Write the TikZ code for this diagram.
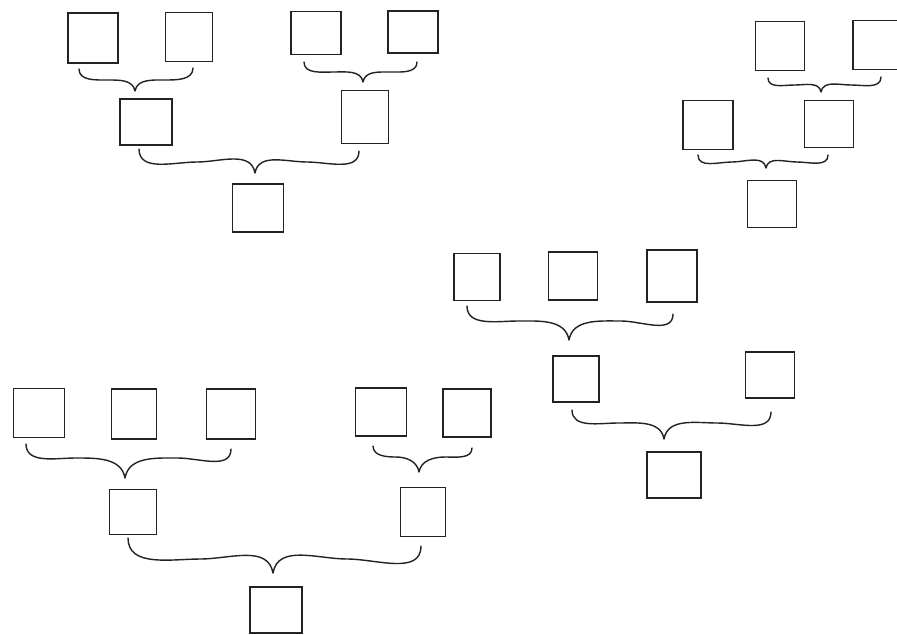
\documentclass[tikz,border=0pt]{standalone}
\usetikzlibrary{calc}
\definecolor{ink}{RGB}{35,35,35}
\tikzset{
  sq/.style 2 args={draw=ink, line width=1.2pt, rectangle, inner sep=0pt, outer sep=0pt,
    minimum width=#1*0.03cm, minimum height=#2*0.03cm},
  bracepath/.style={draw=ink, line width=1.2pt, line cap=round, line join=round}
}
% #1 name, #2 Lx, #3 Ly, #4 Tx, #5 Ty, #6 Rx, #7 Ry, #8 level of the flat part
\newcommand\treebrace[8]{%
  \coordinate (#1L) at (#2,#3);
  \coordinate (#1a) at ({(#2+#4)/2},#8);
  \coordinate (#1T) at (#4,#5);
  \coordinate (#1b) at ({(#4+#6)/2},#8);
  \coordinate (#1R) at (#6,#7);
  \draw[bracepath] (#1L) to[out=-90,in=180] (#1a) to[out=0,in=100] (#1T)
    to[out=80,in=180] (#1b) to[out=0,in=-90] (#1R);
}
\begin{document}
\begin{tikzpicture}[x=0.03cm,y=-0.03cm]
\clip (0,0) rectangle (897,634);
\fill[white] (0,0) rectangle (897,634);
% top-left tree
\node[sq={50}{50}] (A) at (93,38) {};
\node[sq={47}{49}] (B) at (189,37) {};
\node[sq={50}{43}] (C) at (316,33) {};
\node[sq={50}{42}] (D) at (413,32) {};
\node[sq={52}{46}] (E) at (146,122) {};
\node[sq={47}{53}] (F) at (365,117) {};
\node[sq={51}{48}] (G) at (258,208) {};
\treebrace{b1}{79}{69}{135}{91}{193}{68}{80}
\treebrace{b2}{304}{62}{363}{82}{417}{62}{72}
\treebrace{b3}{139}{149}{255}{173}{359}{151}{162}
% top-right tree
\node[sq={49}{49}] (H) at (780,46) {};
\node[sq={48}{49}] (I) at (877,45) {};
\node[sq={50}{49}] (J) at (708,125) {};
\node[sq={49}{47}] (K) at (829,124) {};
\node[sq={49}{47}] (L) at (772,204) {};
\treebrace{b4}{768}{78}{821}{92}{881}{77}{85}
\treebrace{b5}{698}{155}{766}{168}{828}{155}{162}
% middle tree
\node[sq={46}{47}] (M) at (477,277) {};
\node[sq={49}{48}] (N) at (573,276) {};
\node[sq={50}{52}] (O) at (672,276) {};
\node[sq={46}{46}] (P) at (576,379) {};
\node[sq={49}{46}] (Q) at (770,375) {};
\node[sq={54}{46}] (R) at (674,475) {};
\treebrace{b6}{467}{306}{569}{340}{673}{314}{321}
\treebrace{b7}{572}{410}{664}{439}{771}{412}{423}
% bottom-left tree
\node[sq={51}{49}] (S) at (39,413) {};
\node[sq={45}{50}] (T) at (134,414) {};
\node[sq={49}{50}] (U) at (231,414) {};
\node[sq={51}{48}] (V) at (381,412) {};
\node[sq={48}{48}] (W) at (467,413) {};
\node[sq={47}{45}] (X) at (133,512) {};
\node[sq={45}{49}] (Y) at (423,512) {};
\node[sq={52}{46}] (Z) at (276,610) {};
\treebrace{b8}{26}{444}{125}{478}{231}{449}{458}
\treebrace{b9}{373}{446}{419}{472}{472}{448}{457}
\treebrace{b10}{128}{538}{273}{573}{421}{546}{559}
\end{tikzpicture}
\end{document}
